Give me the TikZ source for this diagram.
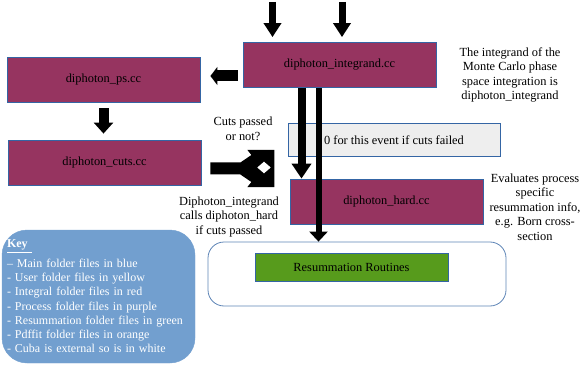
\documentclass[tikz,border=0pt]{standalone}
\usepackage{fontspec}
\setmainfont{Liberation Serif}
\usetikzlibrary{calc}
\usetikzlibrary{arrows.meta}
\definecolor{procpurple}{RGB}{150,52,96}
\definecolor{resumgreen}{RGB}{87,155,28}
\definecolor{keyblue}{RGB}{114,159,207}
\definecolor{edgeblue}{RGB}{52,101,164}
\definecolor{failgray}{RGB}{238,238,238}
\tikzstyle{filebox}=[draw=edgeblue,line width=0.8pt,fill=procpurple,minimum width=193pt,minimum height=45pt,inner sep=0pt]
\tikzstyle{notebox}=[align=center,inner sep=0pt]
\tikzstyle{fatarrow}=[line width=8pt,-{Triangle[width=19pt,length=15pt]}]
\tikzstyle{thinarrow}=[line width=6pt,-{Triangle[width=18pt,length=10pt]}]
\tikzstyle{toparrow}=[line width=7pt,-{Triangle[width=17pt,length=14pt]}]
\tikzstyle{sidearrow}=[line width=11pt,-{Triangle[width=18pt,length=7pt]}]
\tikzstyle{stubarrow}=[line width=10pt,-{Triangle[width=19pt,length=11pt]}]

\begin{document}
\begin{tikzpicture}[x=1pt,y=-1pt,font=\fontsize{12.4}{14.5}\selectfont]
\useasboundingbox (0,0) rectangle (583,366);
% process files
\node[filebox] (integ) at (339.5,65) {diphoton\_integrand.cc};
\node[filebox] (ps) at (103.5,79.5) {diphoton\_ps.cc};
\node[filebox] (cuts) at (104.5,162.5) {diphoton\_cuts.cc};
\node[filebox] (hard) at (386.5,201.5) {diphoton\_hard.cc};
\node[draw=edgeblue,line width=0.8pt,fill=failgray,minimum width=212pt,minimum height=33pt,inner sep=0pt] (fail) at (394,140) {0 for this event if cuts failed};
% resummation
\node[draw=edgeblue!80!white,line width=0.8pt,rounded corners=16pt,minimum width=298pt,minimum height=64pt] (resum) at (357,274) {};
\node[draw=edgeblue,line width=0.8pt,fill=resumgreen,minimum width=193pt,minimum height=28pt,inner sep=0pt] (routines) at (351.5,267.5) {Resummation Routines};
% notes
\node[notebox] (integnote) at (510,75) {The integrand of the\\Monte Carlo phase\\space integration is\\diphoton\_integrand};
\node[notebox] (hardnote) at (535,207) {Evaluates process\\specific\\resummation info,\\e.g. Born cross-\\section};
\node[notebox] (cutsnote) at (243,129) {Cuts passed\\or not?};
\node[notebox] (callnote) at (229,217) {Diphoton\_integrand\\calls diphoton\_hard\\if cuts passed};
% key
\node[fill=keyblue,draw=keyblue,rounded corners=25pt,minimum width=193pt,minimum height=133pt,text width=183pt,inner xsep=5pt,align=left,text=white,font=\fontsize{12}{14.3}\selectfont] (key) at (98.5,296.5) {\vspace*{5pt}\underline{\textbf{Key\ }}\\
-- Main folder files in blue\\
- User folder files in yellow\\
- Integral folder files in red\\
- Process folder files in purple\\
- Resummation folder files in green\\
- Pdffit folder files in orange\\
- Cuba is external so is in white};
% arrows
\coordinate (top1) at (272.5,2);
\coordinate (top2) at (342,2);
\draw[toparrow,shorten >=5pt] (top1) -- (top1 |- integ.north);
\draw[toparrow,shorten >=5pt] (top2) -- (top2 |- integ.north);
\coordinate (side) at ($(integ.west)+(0,11)$);
\draw[sidearrow,shorten <=5pt,shorten >=10pt] (side) -- (side -| ps.east);
\draw[stubarrow,shorten <=6pt,shorten >=6pt] (ps.south) -- (ps.south |- cuts.north);
\coordinate (down1) at ($(integ.south)+(-38,0)$);
\coordinate (down2) at ($(integ.south)+(-21,0)$);
\draw[fatarrow] (down1) -- (down1 |- hard.north);
\draw[thinarrow] (down2) -- (down2 |- resum.north);
% split arrow out of the cuts
\fill[even odd rule] ($(cuts.east)+(9,0)$) -- ++(30,0) -- ++(11,-7.5) -- ++(-4,-5)
  -- ++(27,0) -- ++(0,37) -- ++(-27,0) -- ++(4,-5) -- ++(-11,-7.5) -- ++(-30,0) -- cycle
  (257,167.5) -- (264,161.5) -- (271,167.5) -- (264,173.5) -- cycle;
\end{tikzpicture}
\end{document}
